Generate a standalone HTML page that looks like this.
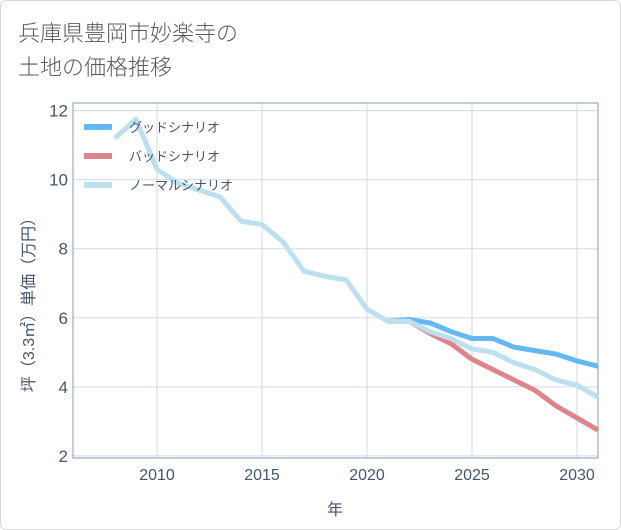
<!DOCTYPE html>
<html><head><meta charset="utf-8"><style>
body{margin:0;background:#fff;font-family:"Liberation Sans","Noto Sans CJK JP",sans-serif}
#wrap{position:relative;width:619px;height:528px;border:1px solid #d8d8d8;border-radius:6px;overflow:hidden}
#title{position:absolute;left:17px;top:14px;font-size:22px;line-height:34px;color:#5a5a5a;font-weight:300;font-family:"Noto Sans CJK JP",sans-serif}
svg{position:absolute;left:0;top:0}
</style></head><body>
<div id="wrap">
<div id="title">兵庫県豊岡市妙楽寺の<br>土地の価格推移</div>
<svg id="c" width="621" height="530"></svg>
</div>
<script>
const years=[2008,2009,2010,2011,2012,2013,2014,2015,2016,2017,2018,2019,2020,2021,2022,2023,2024,2025,2026,2027,2028,2029,2030,2031];
const normal=[11.2,11.75,10.3,9.9,9.7,9.5,8.8,8.7,8.2,7.35,7.2,7.1,6.25,5.9,5.9,5.6,5.4,5.1,5.0,4.7,4.5,4.2,4.05,3.7];
const goodYears=[2021,2022,2023,2024,2025,2026,2027,2028,2029,2030,2031];
const good=[5.9,5.95,5.85,5.6,5.4,5.4,5.15,5.05,4.95,4.75,4.6];
const bad=[5.9,5.9,5.55,5.25,4.8,4.5,4.2,3.9,3.45,3.1,2.75];
const xTicks=[2010,2015,2020,2025,2030];
const yTicks=[2,4,6,8,10,12];
const L=72,R=597,T=102,B=457;
const X=y=>L+(y-2006)*(R-L)/25;
const Y=v=>B-(v-1.94)*(B-T)/(12.22-1.94);
const s=document.getElementById('c'),NS='http://www.w3.org/2000/svg';
function mk(t,a,p){const e=document.createElementNS(NS,t);for(const k in a)e.setAttribute(k,a[k]);(p||s).appendChild(e);return e;}
const grid=mk('g',{});


xTicks.forEach(t=>{mk('line',{x1:X(t),x2:X(t),y1:T,y2:B,stroke:'#d0dae6','stroke-width':1},grid);
const tx=mk('text',{x:X(t),y:479,'text-anchor':'middle','font-size':16,fill:'#44566c'});tx.textContent=t;

});
yTicks.forEach(t=>{mk('line',{x1:L,x2:R,y1:Y(t),y2:Y(t),stroke:'#d0dae6','stroke-width':1},grid);
const tx=mk('text',{x:67,y:Y(t)+6,'text-anchor':'end','font-size':17,fill:'#44566c'});tx.textContent=t;

});
const fr=mk('rect',{x:L,y:T,width:R-L,height:B-T,fill:'none',stroke:'#8a9bb0','stroke-width':1});


function line(xs,vs,c,name){const p=mk('polyline',{points:xs.map((y,i)=>X(y)+','+Y(vs[i])).join(' '),fill:'none',stroke:c,'stroke-width':5,'stroke-linejoin':'round'});

}
line(goodYears,good,'#63b8f5','good-scenario-line');
line(goodYears,bad,'#de858c','bad-scenario-line');
line(years,normal,'#bde0ef','normal-scenario-line');
[['グッドシナリオ','#63b8f5'],['バッドシナリオ','#de858c'],['ノーマルシナリオ','#bde0ef']].forEach((e,i)=>{const y=126+i*29;
const g=mk('g',{});


mk('line',{x1:83,x2:111,y1:y,y2:y,stroke:e[1],'stroke-width':6},g);
const t=mk('text',{x:128,y:y+5,'font-size':13,fill:'#44566c'},g);t.textContent=e[0];});
const xt=mk('text',{x:334,y:514,'text-anchor':'middle','font-size':16,fill:'#44566c'});xt.textContent='年';


const yt=mk('text',{x:0,y:0,'text-anchor':'middle','font-size':16,fill:'#44566c',transform:'translate(33,300) rotate(-90)'});yt.textContent='坪（3.3㎡）単価（万円）';


</script>
</body></html>
